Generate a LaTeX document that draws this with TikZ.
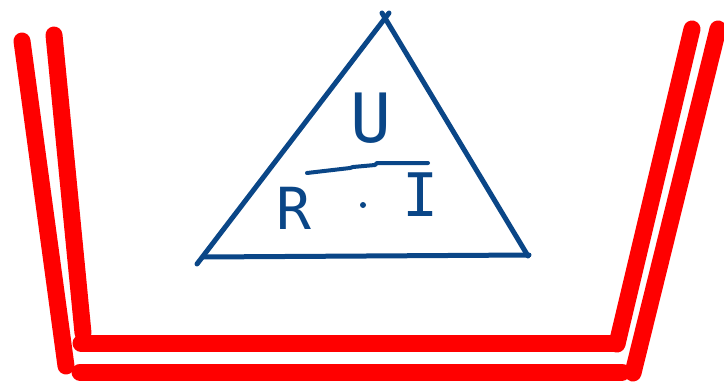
\documentclass[tikz,border=0pt]{standalone}
\usepackage{fontspec}
\setmonofont{DejaVu Sans Mono}
\definecolor{penblue}{RGB}{10,70,135}
\definecolor{penred}{RGB}{255,0,0}
\tikzset{
  redstroke/.style={draw=penred, line width=17pt, line cap=round, line join=round},
  bluestroke/.style={draw=penblue, line width=5pt, line cap=round, line join=round},
  letter/.style={text=penblue, inner sep=0pt, font=\fontsize{60}{60}\selectfont\ttfamily},
}
\begin{document}
\begin{tikzpicture}[x=1pt,y=-1pt]
\useasboundingbox (0,0) rectangle (724,383);
% red container
\coordinate (lo1) at (22,41);   \coordinate (lo2) at (66,366);
\coordinate (li1) at (54,35);   \coordinate (li2) at (83,333);
\coordinate (hu1) at (81,343);  \coordinate (hu2) at (617,343);
\coordinate (hl1) at (80,372);  \coordinate (hl2) at (622,372);
\coordinate (ri1) at (692,29);  \coordinate (ri2) at (617,344);
\coordinate (ro1) at (718,29);  \coordinate (ro2) at (633,373);
\draw[redstroke] (lo1) -- (lo2);
\draw[redstroke] (li1) -- (li2);
\draw[redstroke] (hu1) -- (hu2);
\draw[redstroke] (hl1) -- (hl2);
\draw[redstroke] (ri1) -- (ri2);
\draw[redstroke] (ro1) -- (ro2);
% blue triangle
\coordinate (tl1) at (197,264); \coordinate (tl2) at (389,13);
\coordinate (tr1) at (382,13);  \coordinate (tr2) at (528,256);
\coordinate (tb1) at (203,257); \coordinate (tb2) at (529,255);
\draw[bluestroke] (tl1) -- (tl2);
\draw[bluestroke] (tr1) -- (tr2);
\draw[bluestroke] (tb1) -- (tb2);
% letters
\node[letter, font=\fontsize{68}{68}\selectfont\ttfamily] (U) at (371,118) {U};
\node[letter, font=\fontsize{58}{58}\selectfont\ttfamily] (R) at (294,208) {R};
\node[letter] (I) at (421,195) {I};
\node[circle, fill=penblue, inner sep=0pt, minimum size=6pt] (dot) at (363,205) {};
% fraction line
\coordinate (f1) at (307,173);
\coordinate (f2) at (428,163);
\draw[draw=penblue, line width=4pt, line cap=round, line join=round]
  (f1) -- (350,168) -- (353,167) -- (375,165) -- (377,163) -- (f2);
\end{tikzpicture}
\end{document}
